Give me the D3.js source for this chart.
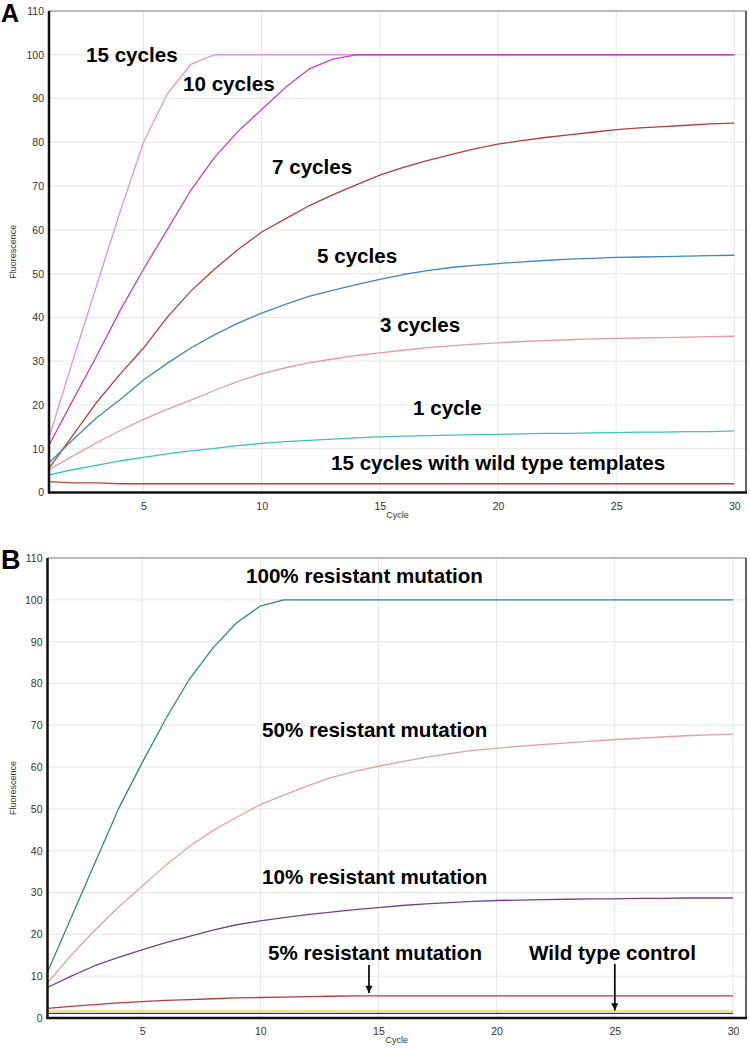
<!DOCTYPE html>
<html><head><meta charset="utf-8">
<script src="https://cdn.jsdelivr.net/npm/d3@7/dist/d3.min.js"></script>
<style>body{margin:0;background:#fff} svg{display:block}</style>
</head><body><svg id="c" width="750" height="1048"></svg>
<script>
// ---------- data ----------
const cycles = [1,2,3,4,5,6,7,8,9,10,11,12,13,14,15,16,17,18,19,20,21,22,23,24,25,26,27,28,29,30];
const yTicks = [0,10,20,30,40,50,60,70,80,90,100,110];
const xTicks = [5,10,15,20,25,30];

// Panel A
const cyc15 = [12.5,30,47,64,80,91,97.8,100,100,100,100,100,100,100,100,100,100,100,100,100,100,100,100,100,100,100,100,100,100,100];
const cyc10 = [10.8,21,31,41.5,51,60,69,76.5,82.5,87.5,92.5,96.7,99,100,100,100,100,100,100,100,100,100,100,100,100,100,100,100,100,100];
const cyc7  = [5.5,13,20.5,27,33,40,46,51,55.5,59.5,62.5,65.5,68,70.3,72.5,74.3,75.8,77.2,78.5,79.6,80.4,81.1,81.7,82.3,82.9,83.3,83.6,83.9,84.2,84.4];
const cyc5  = [6.8,12,17,21.2,25.7,29.5,33,36,38.7,41,43,44.8,46.2,47.5,48.7,49.8,50.7,51.4,51.9,52.3,52.7,53,53.3,53.5,53.7,53.8,53.9,54,54.1,54.2];
const cyc3  = [5.2,8.3,11.3,14.1,16.7,19,21.1,23.3,25.4,27.1,28.5,29.6,30.5,31.3,31.9,32.5,33.1,33.5,33.9,34.2,34.5,34.7,34.9,35.1,35.2,35.3,35.4,35.5,35.6,35.7];
const cyc1  = [4.0,5.2,6.2,7.2,8.0,8.8,9.5,10.1,10.7,11.2,11.6,11.9,12.2,12.5,12.7,12.9,13.0,13.1,13.2,13.3,13.4,13.5,13.5,13.6,13.7,13.8,13.8,13.9,13.9,14.1];
const wildA = [2.5,2.2,2.2,2.0,2.0,2.0,2.0,2.0,2.0,2.0,2.0,2.0,2.0,2.0,2.0,2.0,2.0,2.0,2.0,2.0,2.0,2.0,2.0,2.0,2.0,2.0,2.0,2.0,2.0,2.0];
const seriesA = [
  {name:"15 cycles", values:cyc15, color:"#e08fe4"},
  {name:"10 cycles", values:cyc10, color:"#c23ecb"},
  {name:"7 cycles",  values:cyc7,  color:"#b43c3c"},
  {name:"5 cycles",  values:cyc5,  color:"#3f86c4"},
  {name:"3 cycles",  values:cyc3,  color:"#e79b9b"},
  {name:"1 cycle",   values:cyc1,  color:"#3fbfc0"},
  {name:"15 cycles with wild type templates", values:wildA, color:"#c2453f"}
];

// Panel B
const mut100 = [11,24,37,50,61,71.5,81,88.5,94.5,98.5,100,100,100,100,100,100,100,100,100,100,100,100,100,100,100,100,100,100,100,100];
const mut50  = [8.4,15,21,26.5,31.5,36.5,41,44.8,48,51,53.3,55.5,57.5,59,60.2,61.3,62.3,63.2,64,64.5,65,65.4,65.8,66.2,66.6,66.9,67.2,67.5,67.7,67.9];
const mut10  = [7.3,10,12.5,14.5,16.3,18,19.5,21,22.3,23.2,24,24.7,25.3,25.9,26.4,26.9,27.3,27.6,27.9,28.1,28.2,28.3,28.4,28.5,28.5,28.6,28.6,28.7,28.7,28.7];
const mut5   = [2.3,2.8,3.2,3.6,3.9,4.2,4.4,4.6,4.8,4.9,5.0,5.1,5.2,5.3,5.3,5.3,5.3,5.3,5.3,5.3,5.3,5.3,5.3,5.3,5.3,5.3,5.3,5.3,5.3,5.3];
const ctrlY  = [1.7,1.7,1.7,1.7,1.7,1.7,1.7,1.7,1.7,1.7,1.7,1.7,1.7,1.7,1.7,1.7,1.7,1.7,1.7,1.7,1.7,1.7,1.7,1.7,1.7,1.7,1.7,1.7,1.7,1.7];
const ctrlB  = [1.1,1.1,1.1,1.1,1.1,1.1,1.1,1.1,1.1,1.1,1.1,1.1,1.1,1.1,1.1,1.1,1.1,1.1,1.1,1.1,1.1,1.1,1.1,1.1,1.1,1.1,1.1,1.1,1.1,1.1];
const seriesB = [
  {name:"100% resistant mutation", values:mut100, color:"#2f8a82"},
  {name:"50% resistant mutation",  values:mut50,  color:"#e6a0a0"},
  {name:"10% resistant mutation",  values:mut10,  color:"#7a3d8c"},
  {name:"5% resistant mutation",   values:mut5,   color:"#b83a3a"},
  {name:"Wild type control (a)",   values:ctrlY,  color:"#e4d64a"},
  {name:"Wild type control (b)",   values:ctrlB,  color:"#2c3a8e"}
];

// ---------- layout ----------
const panels = [
  {letter:"A", letterX:1, letterY:22, letterSize:25, x0:49, x1:734.3, right:746, top:11, bot:492.5, series:seriesA,
   labels:[
     {t:"15 cycles", x:86, y:62},
     {t:"10 cycles", x:183, y:91},
     {t:"7 cycles", x:272, y:174},
     {t:"5 cycles", x:317, y:263},
     {t:"3 cycles", x:380, y:332},
     {t:"1 cycle", x:413, y:415},
     {t:"15 cycles with wild type templates", x:331, y:470}
   ], arrows:[]},
  {letter:"B", letterX:1, letterY:569, letterSize:27, x0:47.5, x1:733, right:746, top:558, bot:1018, series:seriesB,
   labels:[
     {t:"100% resistant mutation", x:246, y:583},
     {t:"50% resistant mutation", x:262, y:737},
     {t:"10% resistant mutation", x:262, y:884},
     {t:"5% resistant mutation", x:268, y:960},
     {t:"Wild type control", x:529, y:960}
   ],
   arrows:[{cycle:14.6, from:965, to:6.0},{cycle:25, from:964, to:1.8}]}
];

const svg = d3.select("#c");
const defs = svg.append("defs");
defs.append("marker").attr("id","ah").attr("viewBox","0 0 10 10").attr("refX",10).attr("refY",5)
  .attr("markerWidth",4.5).attr("markerHeight",4).attr("orient","auto").attr("markerUnits","strokeWidth")
  .append("path").attr("d","M0,0 L10,5 L0,10 Z").attr("fill","#111");

const FONT = "'Liberation Sans', Arial, sans-serif";

panels.forEach(p => {
  const g = svg.append("g");
  const x = d3.scaleLinear().domain([1,30]).range([p.x0, p.x1]);
  const y = d3.scaleLinear().domain([0,110]).range([p.bot, p.top]);

  // grid
  g.append("g").selectAll("line.h").data(yTicks.filter(v=>v>0 && v<110)).join("line")
    .attr("x1", p.x0).attr("x2", p.right).attr("y1", d=>y(d)).attr("y2", d=>y(d))
    .attr("stroke","#e6e6e6").attr("stroke-width",1);
  g.append("g").selectAll("line.v").data(xTicks).join("line")
    .attr("x1", d=>x(d)).attr("x2", d=>x(d)).attr("y1", p.top).attr("y2", p.bot)
    .attr("stroke","#e6e6e6").attr("stroke-width",1);

  // axes (labels only)
  const ya = d3.axisLeft(y).tickValues(yTicks).tickSize(0).tickPadding(5);
  const yg = g.append("g").attr("transform",`translate(${p.x0},0)`).call(ya);
  yg.select(".domain").remove();
  yg.selectAll("text").attr("font-family",FONT).attr("font-size",10.5).attr("fill","#333");

  const xa = d3.axisBottom(x).tickValues(xTicks).tickSize(0).tickPadding(10);
  const xg = g.append("g").attr("transform",`translate(0,${p.bot})`).call(xa);
  xg.select(".domain").remove();
  xg.selectAll("text").attr("font-family",FONT).attr("font-size",10.5).attr("fill","#333");

  // series
  const line = d3.line().x((d,i)=>x(cycles[i])).y(d=>y(d));
  g.append("g").selectAll("path").data(p.series).join("path")
    .attr("d", d=>line(d.values)).attr("fill","none").attr("stroke", d=>d.color)
    .attr("stroke-width",1.3).attr("stroke-linejoin","round");

  // frame
  g.append("line").attr("x1",p.x0).attr("x2",p.right).attr("y1",p.top).attr("y2",p.top).attr("stroke","#777").attr("stroke-width",1);
  g.append("line").attr("x1",p.right).attr("x2",p.right).attr("y1",p.top).attr("y2",p.bot).attr("stroke","#333").attr("stroke-width",1.5);
  g.append("line").attr("x1",p.x0).attr("x2",p.x0).attr("y1",p.top).attr("y2",p.bot+1).attr("stroke","#111").attr("stroke-width",2.5);
  g.append("line").attr("x1",p.x0-1).attr("x2",p.right+1).attr("y1",p.bot).attr("y2",p.bot).attr("stroke","#111").attr("stroke-width",2.5);

  // axis titles
  g.append("text").attr("x",(p.x0+p.right)/2).attr("y",p.bot+25).attr("text-anchor","middle")
    .attr("font-family",FONT).attr("font-size",9).attr("fill","#333").text("Cycle");
  g.append("text").attr("transform",`translate(16,${(p.top+p.bot)/2}) rotate(-90)`).attr("text-anchor","middle")
    .attr("font-family",FONT).attr("font-size",9).attr("fill","#333").text("Fluorescence");

  // panel letter
  svg.append("text").attr("x",p.letterX).attr("y",p.letterY).attr("font-family",FONT).attr("font-weight","bold")
    .attr("font-size",p.letterSize).attr("fill","#000").text(p.letter);

  // annotations
  g.append("g").selectAll("text").data(p.labels).join("text")
    .attr("x",d=>d.x).attr("y",d=>d.y).attr("font-family",FONT).attr("font-weight","bold")
    .attr("font-size",20.6).attr("fill","#000").text(d=>d.t);

  g.append("g").selectAll("line").data(p.arrows).join("line")
    .attr("x1",d=>x(d.cycle)).attr("x2",d=>x(d.cycle)).attr("y1",d=>d.from).attr("y2",d=>y(d.to))
    .attr("stroke","#111").attr("stroke-width",1.8).attr("marker-end","url(#ah)");
});
</script>
</body></html>
